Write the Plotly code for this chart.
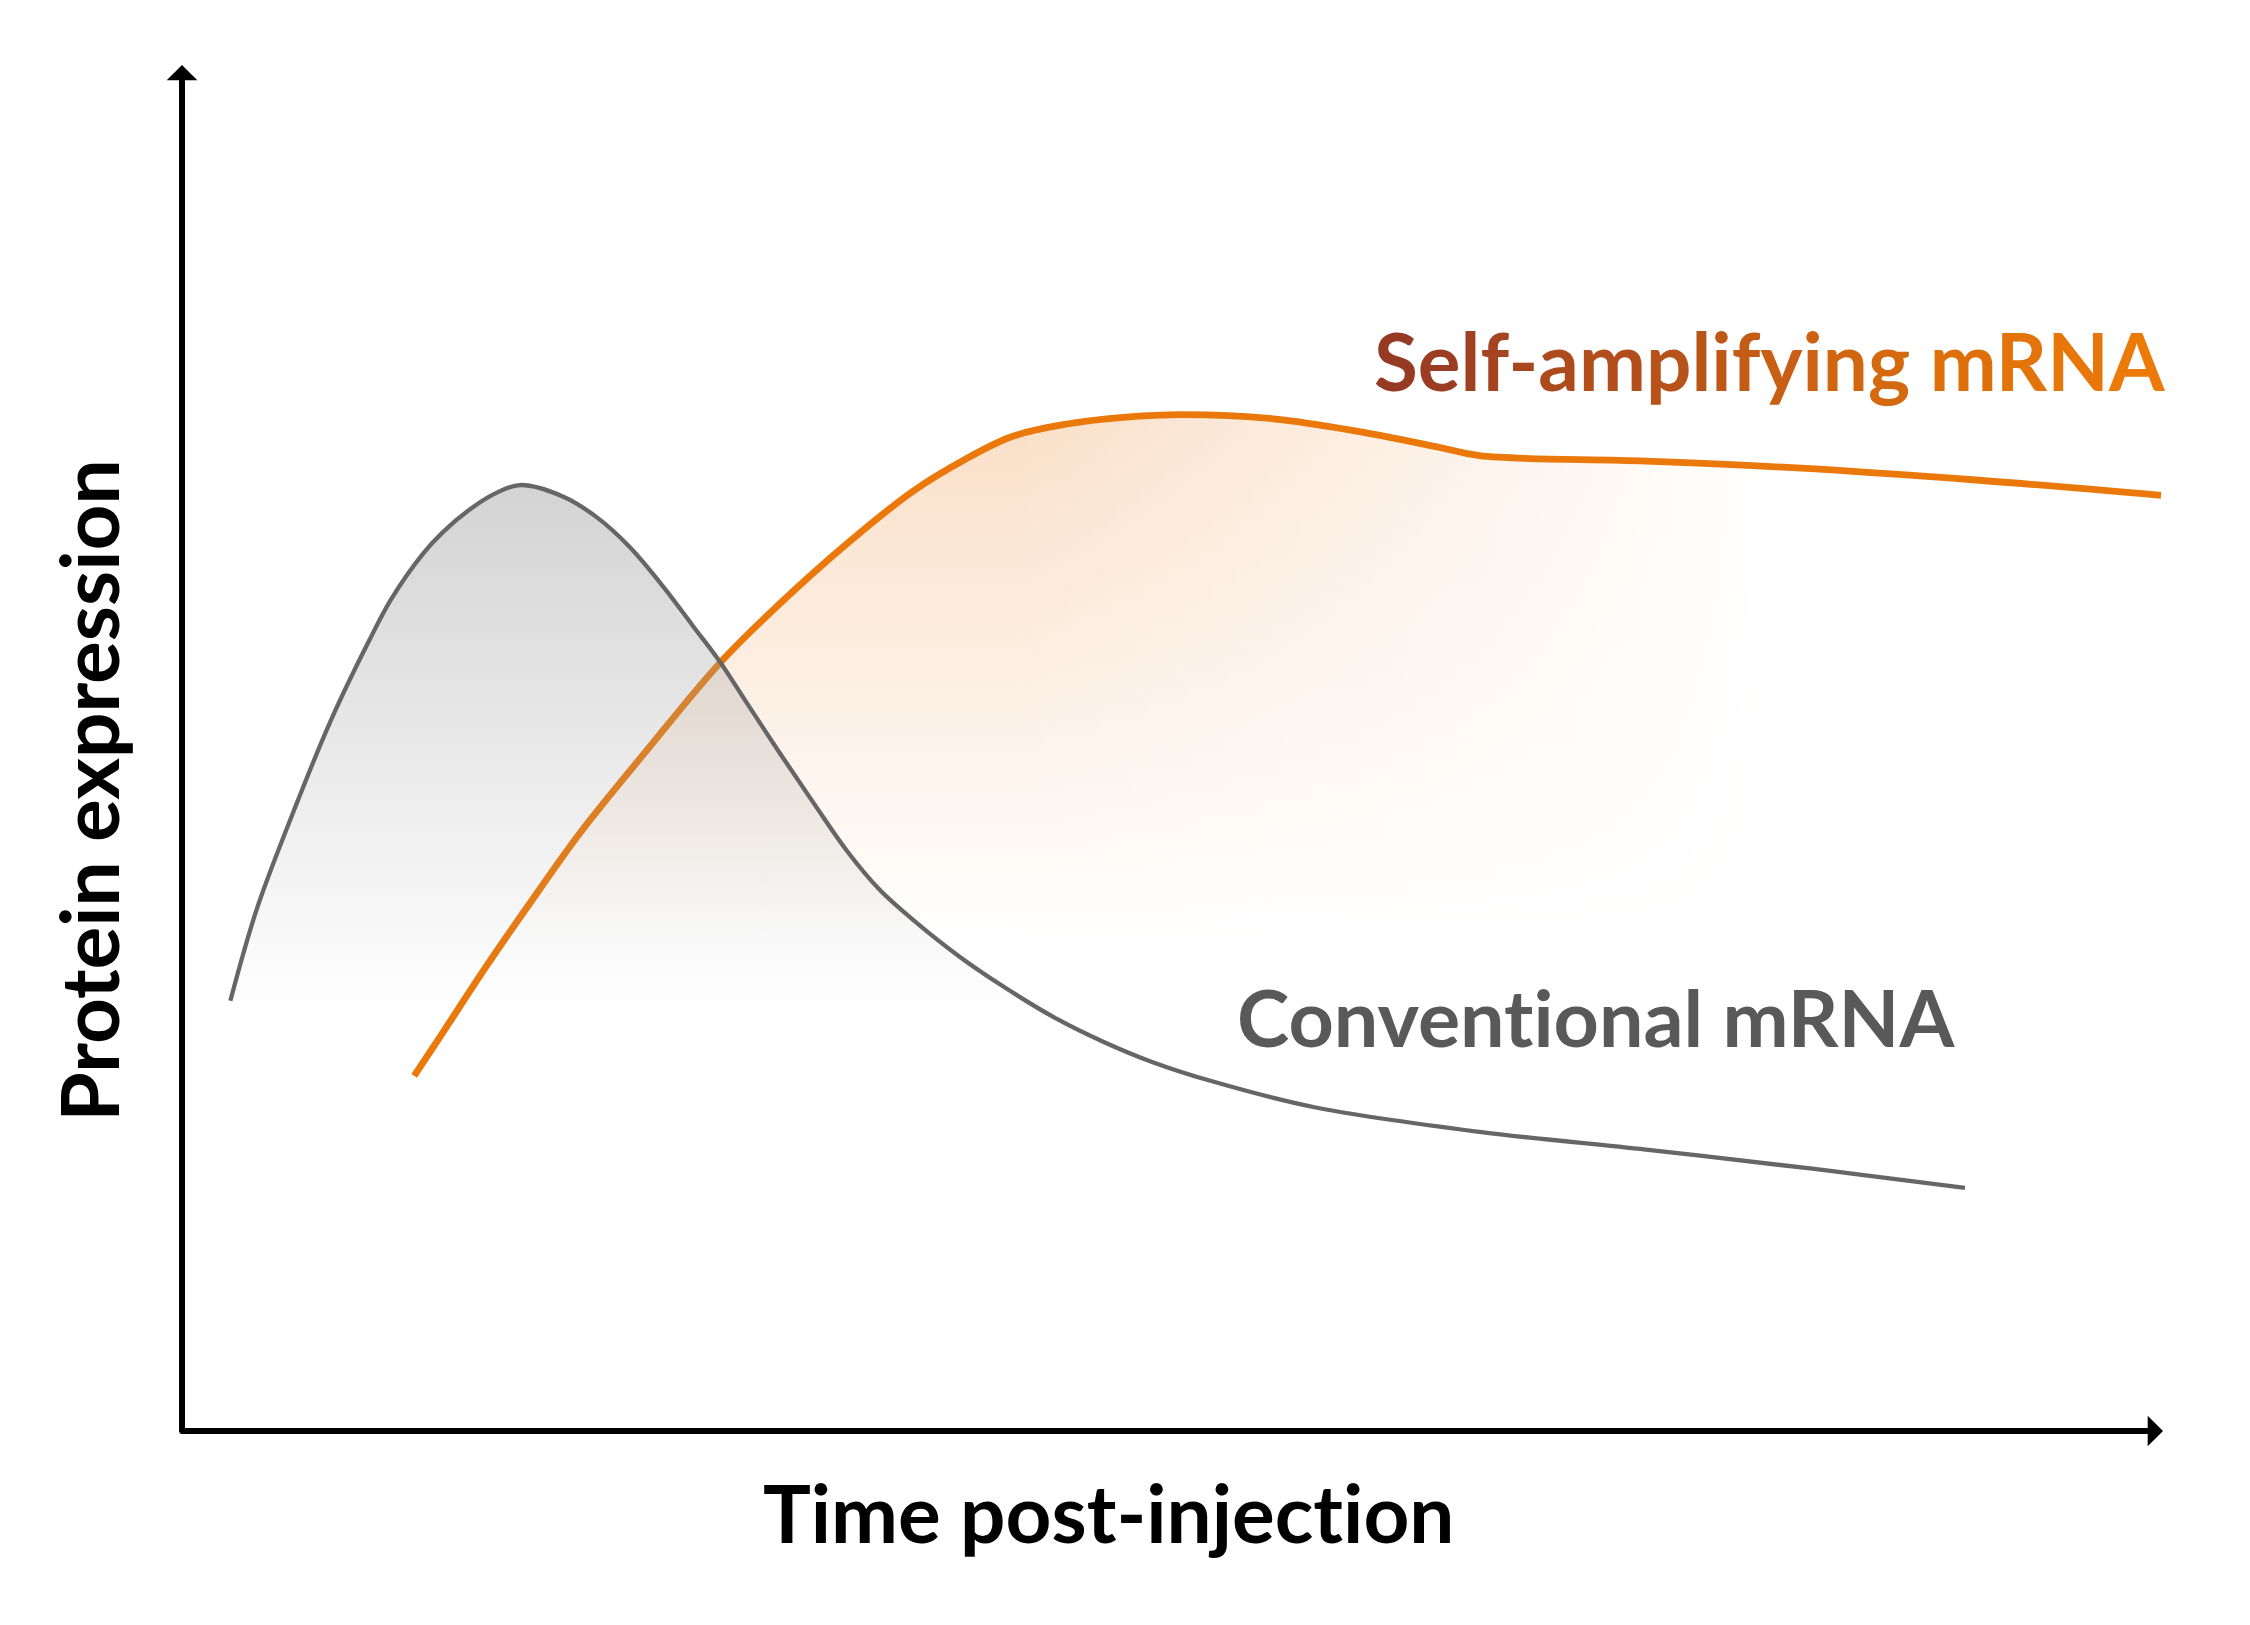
import plotly.graph_objects as go

# ---- data (arbitrary units: time 0-100, expression 0-100) ----
time_conventional = [2.44, 3.75, 5.48, 7.51, 9.39, 10.56, 12.15, 13.17, 14.47, 15.77, 17.06,
                     19.25, 20.93, 22.61, 24.30, 25.81, 27.16, 28.51, 30.19, 31.87, 33.55,
                     35.23, 36.92, 39.27, 41.50, 44.00, 46.50, 49.00, 52.00, 57.17,
                     65.50, 73.90, 82.30, 90.00]
expr_conventional = [31.5, 38.1, 44.8, 52.0, 57.7, 60.9, 64.2, 65.8, 67.4, 68.6, 69.25,
                     68.4, 66.9, 64.7, 61.8, 58.9, 56.3, 53.3, 49.6, 46.0, 42.5,
                     39.6, 37.4, 34.7, 32.5, 30.3, 28.5, 27.0, 25.6, 23.7,
                     21.9, 20.6, 19.2, 17.8]

time_selfamp = [11.72, 13.0, 15.4, 17.4, 20.1, 23.5, 27.2, 30.2, 33.6, 36.9, 39.5,
                41.9, 44.6, 47.5, 50.5, 55.1, 59.3, 63.5, 65.5, 73.9, 81.5, 90.7, 99.9]
expr_selfamp = [26.0, 28.8, 34.1, 38.3, 43.8, 49.9, 56.3, 60.6, 65.0, 68.8, 71.1,
                72.8, 73.7, 74.2, 74.4, 74.1, 73.2, 72.0, 71.4, 71.0, 70.5, 69.6, 68.5]

label_selfamp = "Self-amplifying mRNA"
label_conventional = "Conventional mRNA"
x_title = "Time post-injection"
y_title = "Protein expression"

FONT = "Lato"
ORANGE = "#EA780A"
GRAY_LINE = "#666666"
GRAY_TEXT = "#595959"
NOLIG = "font-variant-ligatures:none"


def gradient_text(text, c0, c1):
    n = max(len(text) - 1, 1)
    parts = []
    for i, ch in enumerate(text):
        t = i / n
        r = round(c0[0] + (c1[0] - c0[0]) * t)
        g = round(c0[1] + (c1[1] - c0[1]) * t)
        b = round(c0[2] + (c1[2] - c0[2]) * t)
        parts.append(f'<span style="color:rgb({r},{g},{b})">{ch}</span>')
    return "".join(parts)


def plain(text, color):
    return f'<span style="color:{color};{NOLIG}">{text}</span>'


fig = go.Figure()

# orange fill (vertical fade)
fig.add_trace(go.Scatter(
    x=time_selfamp, y=expr_selfamp, mode="lines",
    line=dict(width=0, shape="spline", smoothing=1.0),
    fill="tozeroy",
    fillgradient=dict(type="vertical",
                      colorscale=[[0, "rgba(240,160,90,0)"], [1, "rgba(240,160,90,0.34)"]],
                      start=36, stop=74.4),
    hoverinfo="skip", showlegend=False))

# white horizontal fade over right part of orange fill (gives diagonal look)
fig.add_trace(go.Scatter(
    x=time_selfamp, y=expr_selfamp, mode="lines",
    line=dict(width=0, shape="spline", smoothing=1.0),
    fill="tozeroy",
    fillgradient=dict(type="horizontal",
                      colorscale=[[0, "rgba(255,255,255,0)"], [1, "rgba(255,255,255,1)"]],
                      start=42, stop=80),
    hoverinfo="skip", showlegend=False))

# orange line
fig.add_trace(go.Scatter(
    x=time_selfamp, y=expr_selfamp, mode="lines",
    line=dict(color=ORANGE, width=6.8, shape="spline", smoothing=1.0),
    hoverinfo="skip", showlegend=False))

# gray fill (vertical fade), drawn over orange line
fig.add_trace(go.Scatter(
    x=time_conventional, y=expr_conventional, mode="lines",
    line=dict(width=0, shape="spline", smoothing=1.0),
    fill="tozeroy",
    fillgradient=dict(type="vertical",
                      colorscale=[[0, "rgba(160,160,160,0)"], [1, "rgba(160,160,160,0.46)"]],
                      start=30.5, stop=69.25),
    hoverinfo="skip", showlegend=False))

# gray line
fig.add_trace(go.Scatter(
    x=time_conventional, y=expr_conventional, mode="lines",
    line=dict(color=GRAY_LINE, width=4.3, shape="spline", smoothing=1.0),
    hoverinfo="skip", showlegend=False))

annotations = [
    # axes with arrowheads
    dict(x=100, y=0, ax=-0.16, ay=0, xref="x", yref="y", axref="x", ayref="y",
         text="", showarrow=True, arrowhead=1, arrowsize=0.85, arrowwidth=6, arrowcolor="black",
         standoff=0),
    dict(x=0, y=100, ax=0, ay=-0.22, xref="x", yref="y", axref="x", ayref="y",
         text="", showarrow=True, arrowhead=1, arrowsize=0.85, arrowwidth=6, arrowcolor="black",
         standoff=0),
    # labels
    dict(x=0.8014, y=0.7844, xref="paper", yref="paper", xanchor="center", yanchor="middle",
         text=gradient_text(label_selfamp, (150, 58, 36), (236, 122, 8)),
         showarrow=False, font=dict(family=FONT, size=80, weight="bold")),
    dict(x=0.7138, y=0.3038, xref="paper", yref="paper", xanchor="center", yanchor="middle",
         text=plain(label_conventional, GRAY_TEXT), showarrow=False,
         font=dict(family=FONT, size=79, color=GRAY_TEXT, weight="bold")),
    # axis titles
    dict(x=0.4675, y=-0.0594, xref="paper", yref="paper", xanchor="center", yanchor="middle",
         text=plain(x_title, "black"), showarrow=False,
         font=dict(family=FONT, size=80, color="black", weight="bold")),
    dict(x=-0.0473, y=0.469, xref="paper", yref="paper", xanchor="center", yanchor="middle",
         text=plain(y_title, "black"), showarrow=False, textangle=-90,
         font=dict(family=FONT, size=80, color="black", weight="bold")),
]

fig.update_layout(
    width=2250, height=1625, autosize=False,
    margin=dict(l=182, r=87, t=65, b=194),
    paper_bgcolor="white", plot_bgcolor="white",
    xaxis=dict(range=[0, 100], showgrid=False, zeroline=False, showline=False,
               showticklabels=False, ticks="", fixedrange=True),
    yaxis=dict(range=[0, 100], showgrid=False, zeroline=False, showline=False,
               showticklabels=False, ticks="", fixedrange=True),
    annotations=annotations,
    showlegend=False,
)

fig.write_html(
    "out.html",
    config={"displayModeBar": False},
    post_script="document.body.style.margin='0';document.body.style.overflow='hidden';",
)
